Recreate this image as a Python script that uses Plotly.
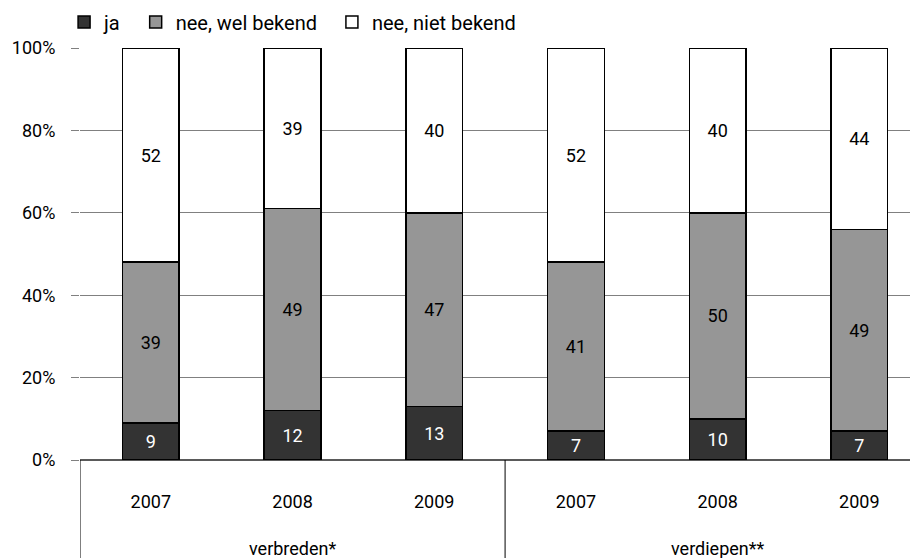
import plotly.graph_objects as go

groups = ["verbreden*", "verdiepen**"]
years = ["2007", "2008", "2009", "2007", "2008", "2009"]
ja = [9, 12, 13, 7, 10, 7]
nee_wel = [39, 49, 47, 41, 50, 49]
nee_niet = [52, 39, 40, 52, 40, 44]
y_ticks = [0, 20, 40, 60, 80, 100]
y_labels = ["0%", "20%", "40%", "60%", "80%", "100%"]

font_family = "Roboto, Liberation Sans Narrow, sans-serif"
pad = "\u00a0\u00a0"  # extra room between legend entries

# one category per bar, the year is shown as tick text
cats = [groups[i // 3] + " " + years[i] for i in range(len(years))]

fig = go.Figure()
fig.add_trace(go.Bar(x=cats, y=ja, name="ja" + pad, text=ja,
                     marker=dict(color="#333333", line=dict(color="black", width=1.5)),
                     textfont=dict(color="white")))
fig.add_trace(go.Bar(x=cats, y=nee_wel, name="nee, wel bekend" + pad, text=nee_wel,
                     marker=dict(color="#969696", line=dict(color="black", width=1.5)),
                     textfont=dict(color="black")))
fig.add_trace(go.Bar(x=cats, y=nee_niet, name="nee, niet bekend", text=nee_niet,
                     marker=dict(color="white", line=dict(color="black", width=1.5)),
                     textfont=dict(color="black")))
fig.update_traces(textposition="inside", insidetextanchor="middle", textangle=0, width=0.4,
                  insidetextfont=dict(size=18, family=font_family))

# group labels and dividers under the axis
for g in range(len(groups)):
    fig.add_annotation(x=cats[g * 3 + 1], y=-0.2136, xref="x", yref="paper", text=groups[g],
                       showarrow=False, yanchor="middle", font=dict(size=18))
    fig.add_shape(type="line", xref="x", yref="paper", x0=g * 3 - 0.5, x1=g * 3 - 0.5, y0=0, y1=-0.3,
                  line=dict(color="black", width=1))

fig.update_layout(
    barmode="stack",
    width=918, height=558,
    margin=dict(l=72, r=8, t=40, b=106, autoexpand=False),
    plot_bgcolor="white", paper_bgcolor="white",
    font=dict(family=font_family, size=18, color="black"),
    uniformtext=dict(minsize=10, mode="show"),
    showlegend=True,
    legend=dict(orientation="h", x=-0.019, y=1.063, xanchor="left", yanchor="middle",
                font=dict(size=20), traceorder="normal"),
    xaxis=dict(range=[-0.5, 5.414], showgrid=False, showline=False, ticks="",
               tickvals=cats, ticktext=years, ticklabelstandoff=29, automargin=False),
    yaxis=dict(range=[0, 100], tickvals=y_ticks, ticktext=y_labels,
               showgrid=True, gridcolor="#808080", gridwidth=1, ticks="outside", ticklen=8,
               tickcolor="#808080", zeroline=True, zerolinecolor="#5a5a5a", zerolinewidth=2,
               showline=False, ticklabelstandoff=12, automargin=False),
)

fig.write_html("out.html")
